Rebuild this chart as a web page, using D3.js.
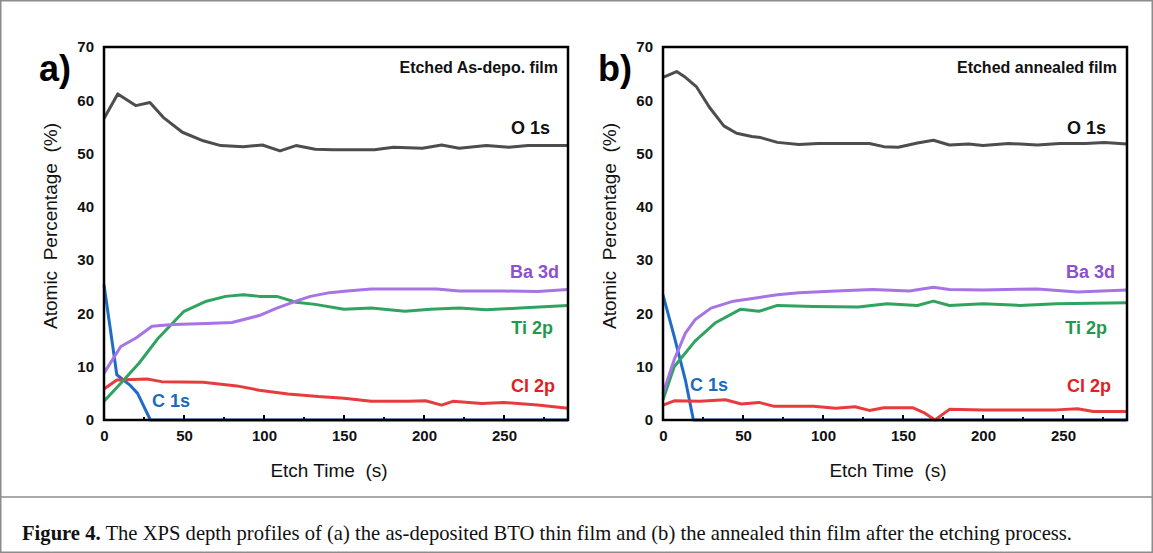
<!DOCTYPE html>
<html>
<head>
<meta charset="utf-8">
<script src="https://cdn.jsdelivr.net/npm/d3@7"></script>
<style>
  body { margin: 0; background: #fff; }
  svg { display: block; }
</style>
</head>
<body>
<div id="chart"></div>
<script>
// ---- data: [etch time (s), atomic %] ----
var xTicks = [0, 50, 100, 150, 200, 250];
var yTicks = [0, 10, 20, 30, 40, 50, 60, 70];

// (a) etched as-deposited film
var a_O1s = [[0,56.6],[8.6,61.2],[19.8,59],[28.7,59.6],[37,56.8],[49,54],[62,52.4],[73,51.5],[87,51.3],[99,51.6],[110,50.5],[120,51.5],[132,50.8],[143,50.7],[169,50.7],[181,51.2],[199,51],[211,51.6],[222,51],[239,51.5],[253,51.2],[265,51.5],[290,51.5]];
var a_Ba3d = [[0,8.8],[10.5,13.8],[20,15.4],[30,17.6],[43,17.9],[64,18.1],[80,18.3],[97,19.6],[108,21],[120,22.3],[129,23.2],[141,23.9],[152,24.2],[167,24.6],[190,24.6],[208,24.6],[222,24.2],[250,24.2],[271,24.1],[290,24.5]];
var a_Ti2p = [[0,3.5],[10.5,6.9],[22,10.7],[34,15.4],[50,20.4],[64,22.3],[76,23.2],[87,23.5],[97,23.2],[108,23.2],[120,22.1],[132,21.7],[150,20.8],[167,21],[188,20.4],[204,20.8],[222,21],[239,20.7],[260,21],[290,21.5]];
var a_Cl2p = [[0,5.8],[8,7.5],[27,7.7],[36,7.2],[62,7.1],[83,6.4],[97,5.6],[115,4.9],[134,4.4],[150,4.1],[167,3.5],[190,3.5],[201,3.6],[211,2.8],[218,3.5],[236,3.1],[250,3.3],[271,2.8],[290,2.2]];
var a_C1s = [[0,25.4],[8,8.5],[16,6.6],[21,5],[29,0],[290,0]];

// (b) etched annealed film
var b_O1s = [[0,64.3],[8.5,65.4],[14,64.3],[21,62.5],[29,58.7],[38,55.2],[46,53.8],[55.5,53.2],[61,53],[71.5,52.1],[85,51.7],[97,51.9],[108,51.9],[129,51.9],[138,51.3],[147,51.2],[159,52],[169,52.5],[179,51.6],[191,51.8],[200,51.5],[216,51.9],[234,51.6],[248,51.9],[264,51.9],[276,52.1],[290,51.8]];
var b_Ba3d = [[0,5],[7,11.3],[14,16.3],[20,18.8],[30,21],[44,22.3],[58,22.9],[71.5,23.5],[85,23.9],[108,24.2],[131,24.5],[154,24.2],[169,24.9],[179,24.5],[200,24.4],[234,24.6],[259,24],[290,24.4]];
var b_Ti2p = [[0,3.8],[7,10],[20,14.8],[32.5,18.2],[48.6,20.8],[60,20.4],[71.5,21.5],[94,21.3],[122,21.2],[140,21.8],[159,21.5],[169,22.3],[179,21.5],[200,21.8],[223,21.5],[246,21.8],[290,22]];
var b_Cl2p = [[0,2.8],[7,3.6],[23,3.5],[39,3.8],[49,3],[60,3.3],[69,2.6],[94,2.6],[108,2.2],[120,2.5],[129,1.8],[138,2.3],[156,2.3],[163,1.4],[170,0],[179,2],[200,1.9],[246,1.9],[259,2.1],[269,1.6],[290,1.6]];
var b_C1s = [[0,23.5],[7,15.7],[14,7.5],[19,0],[290,0]];

var seriesNames = ["C 1s", "Cl 2p", "Ti 2p", "Ba 3d", "O 1s"];
var lineColors = {"O 1s": "#4d4d4d", "Ba 3d": "#a674e4", "Ti 2p": "#2fa360", "Cl 2p": "#e83b3e", "C 1s": "#1f6cc8"};
var textColors = {"O 1s": "#111", "Ba 3d": "#8b4fd0", "Ti 2p": "#1f9a4c", "Cl 2p": "#e02121", "C 1s": "#1b6bbd"};

var panels = [
  {tag: "a)", title: "Etched As-depo. film", left: 104,
   data: {"O 1s": a_O1s, "Ba 3d": a_Ba3d, "Ti 2p": a_Ti2p, "Cl 2p": a_Cl2p, "C 1s": a_C1s},
   labels: {"O 1s": [550, 134, "end"], "Ba 3d": [559, 278, "end"], "Ti 2p": [553, 334, "end"], "Cl 2p": [555, 392, "end"], "C 1s": [152, 407, "start"]}},
  {tag: "b)", title: "Etched annealed film", left: 663,
   data: {"O 1s": b_O1s, "Ba 3d": b_Ba3d, "Ti 2p": b_Ti2p, "Cl 2p": b_Cl2p, "C 1s": b_C1s},
   labels: {"O 1s": [1106, 134, "end"], "Ba 3d": [1115, 278, "end"], "Ti 2p": [1107, 334, "end"], "Cl 2p": [1111, 392, "end"], "C 1s": [690, 391, "start"]}}
];

var W = 1153, H = 553;
var plotW = 464, plotTop = 47, plotBottom = 420;
var narrow = "'Liberation Sans Narrow', 'Arial Narrow', 'Liberation Sans', Arial, sans-serif";
var sans = "'Liberation Sans', Arial, sans-serif";

var svg = d3.select("#chart").append("svg")
  .attr("width", W)
  .attr("height", H);

// outer frame of the figure
svg.append("rect")
  .attr("x", 0.75).attr("y", 0.75)
  .attr("width", W - 1.5).attr("height", H - 1.5)
  .attr("fill", "none").attr("stroke", "#8c8c8c").attr("stroke-width", 1.5);
svg.append("line")
  .attr("x1", 0).attr("x2", W).attr("y1", 497).attr("y2", 497)
  .attr("stroke", "#8c8c8c").attr("stroke-width", 1.5);

var y = d3.scaleLinear().domain([0, 70]).range([plotBottom, plotTop]);

panels.forEach(function(p) {
  var x = d3.scaleLinear().domain([0, 290]).range([p.left, p.left + plotW]);
  var g = svg.append("g");

  // lines
  var line = d3.line()
    .x(function(d) { return x(d[0]); })
    .y(function(d) { return y(d[1]); });
  seriesNames.forEach(function(name) {
    g.append("path")
      .datum(p.data[name])
      .attr("d", line)
      .attr("fill", "none")
      .attr("stroke", lineColors[name])
      .attr("stroke-width", 3)
      .attr("stroke-linejoin", "round");
  });

  // frame
  g.append("rect")
    .attr("x", p.left).attr("y", plotTop)
    .attr("width", plotW).attr("height", plotBottom - plotTop)
    .attr("fill", "none").attr("stroke", "#000").attr("stroke-width", 2.5);

  // x axis: labels, major and minor ticks pointing inward
  var xAxis = g.append("g")
    .attr("transform", "translate(0," + plotBottom + ")")
    .call(d3.axisBottom(x).tickValues(xTicks).tickSize(0).tickPadding(10));
  xAxis.select(".domain").remove();
  xAxis.selectAll("text")
    .attr("font-family", narrow).attr("font-weight", "bold")
    .attr("font-size", 15).attr("fill", "#111");
  g.selectAll(".minor")
    .data(d3.range(25, 290, 25))
    .enter().append("line")
    .attr("x1", function(d) { return x(d); })
    .attr("x2", function(d) { return x(d); })
    .attr("y1", plotBottom)
    .attr("y2", function(d) { return d % 50 === 0 ? plotBottom - 5 : plotBottom - 3; })
    .attr("stroke", "#000").attr("stroke-width", 2);

  // y axis labels
  var yAxis = g.append("g")
    .attr("transform", "translate(" + p.left + ",0)")
    .call(d3.axisLeft(y).tickValues(yTicks).tickSize(0).tickPadding(10));
  yAxis.select(".domain").remove();
  yAxis.selectAll("text")
    .attr("font-family", narrow).attr("font-weight", "bold")
    .attr("font-size", 15).attr("fill", "#111");

  // axis titles
  g.append("text")
    .attr("x", p.left + plotW / 2 - 7).attr("y", 477)
    .attr("text-anchor", "middle")
    .attr("font-family", narrow).attr("font-size", 19).attr("fill", "#111")
    .attr("xml:space", "preserve")
    .text("Etch Time  (s)");
  g.append("text")
    .attr("transform", "translate(" + (p.left - 47) + "," + 226 + ") rotate(-90)")
    .attr("text-anchor", "middle")
    .attr("font-family", sans).attr("font-size", 19).attr("fill", "#111")
    .attr("xml:space", "preserve")
    .text("Atomic  Percentage  (%)");

  // panel tag and title
  g.append("text")
    .attr("x", p.left - 65).attr("y", 81)
    .attr("font-family", sans).attr("font-weight", "bold")
    .attr("font-size", 36).attr("fill", "#000")
    .text(p.tag);
  g.append("text")
    .attr("x", p.left + plotW - 10).attr("y", 73)
    .attr("text-anchor", "end")
    .attr("font-family", sans).attr("font-weight", "bold")
    .attr("font-size", 16).attr("fill", "#111")
    .text(p.title);

  // series labels
  seriesNames.forEach(function(name) {
    var l = p.labels[name];
    g.append("text")
      .attr("x", l[0]).attr("y", l[1])
      .attr("text-anchor", l[2])
      .attr("font-family", sans).attr("font-weight", "bold")
      .attr("font-size", 18).attr("fill", textColors[name])
      .text(name);
  });
});

// caption
var cap = svg.append("text")
  .attr("x", 22).attr("y", 540)
  .attr("font-family", "'Liberation Serif', 'Times New Roman', serif")
  .attr("font-size", 21).attr("fill", "#111")
  .attr("textLength", 1050).attr("lengthAdjust", "spacingAndGlyphs");
cap.append("tspan").attr("font-weight", "bold").text("Figure 4.");
cap.append("tspan").text(" The XPS depth profiles of (a) the as-deposited BTO thin film and (b) the annealed thin film after the etching process.");
</script>
</body>
</html>
